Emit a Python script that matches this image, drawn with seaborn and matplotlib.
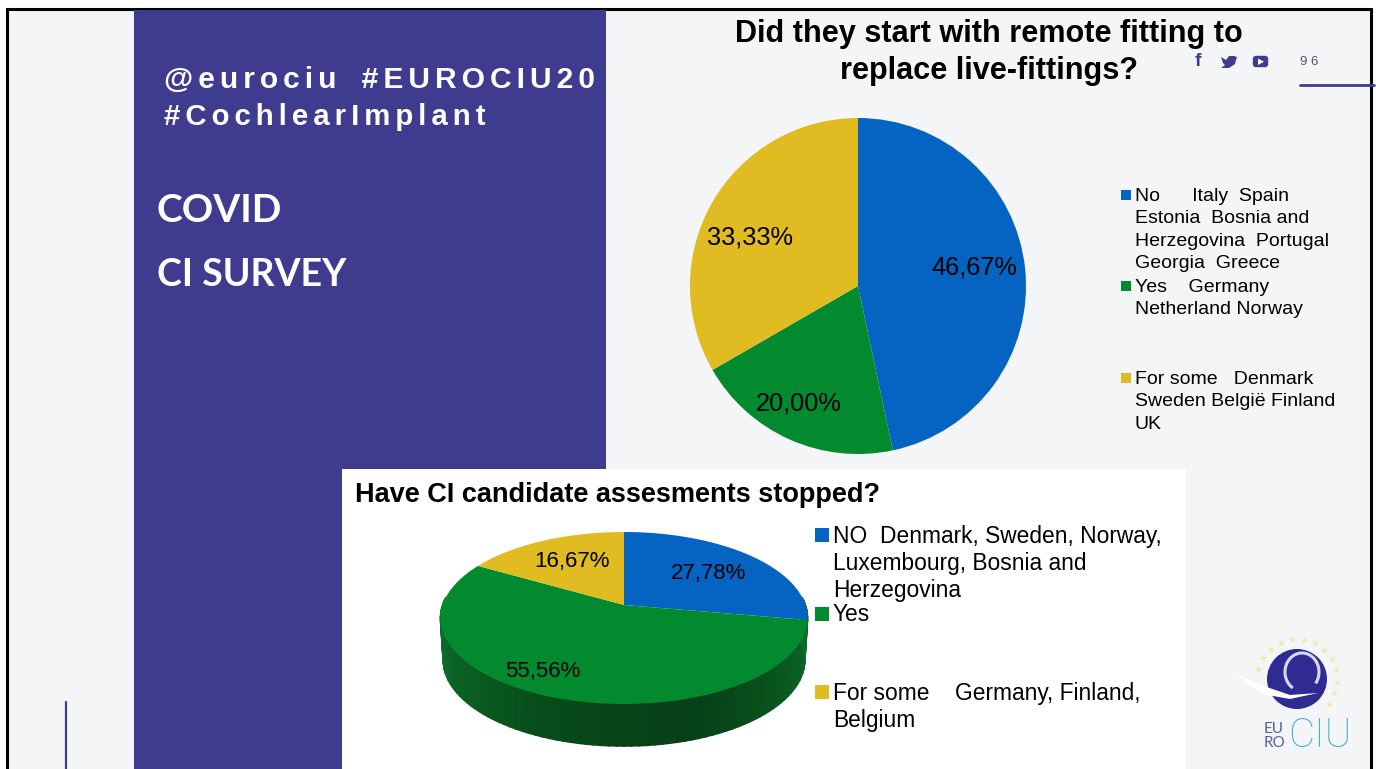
import numpy as np
import matplotlib.pyplot as plt
from matplotlib.patches import Rectangle, Circle, Arc, FancyBboxPatch, Polygon
import seaborn as sns

# Chart data
top_title = ["Did they start with remote fitting to", "replace live-fittings?"]
top_values = [46.67, 20.00, 33.33]
top_labels = [
    "No      Italy  Spain\nEstonia  Bosnia and\nHerzegovina  Portugal\nGeorgia  Greece",
    "Yes    Germany\nNetherland Norway",
    "For some   Denmark\nSweden België Finland\nUK",
]
bottom_title = "Have CI candidate assesments stopped?"
bottom_values = [27.78, 55.56, 16.67]
bottom_labels = [
    "NO  Denmark, Sweden, Norway,\nLuxembourg, Bosnia and\nHerzegovina",
    "Yes",
    "For some    Germany, Finland,\nBelgium",
]

sns.set_theme(style="white")
plt.rcParams['font.family'] = ['Liberation Sans', 'DejaVu Sans']

palette = sns.color_palette(["#0563c1", "#038a2e", "#e0bb22"])
purple = "#3f3b8f"
slide_bg = "#f4f5f7"


def pct_text(p):
    return f"{p:.2f}%".replace(".", ",")


def spaced(s):
    # letter spacing of the slide heading
    return "\u200a\u200a".join(s)


fig = plt.figure(figsize=(13.76, 7.69), dpi=100, facecolor="white")
ax = fig.add_axes([0, 0, 1, 1])

# Top pie, y axis runs downwards so the angles go clockwise on screen
wedges, _, autotexts = ax.pie(top_values, colors=palette, center=(858, 286), radius=168,
                              startangle=-90, counterclock=True, autopct=pct_text,
                              wedgeprops={"linewidth": 0},
                              textprops={"fontsize": 18.3, "color": "black"})
ax.set_xlim(0, 1376)
ax.set_ylim(769, 0)
ax.set_aspect("equal")
ax.axis("off")
for t, xy in zip(autotexts, [(974, 267), (799, 403), (750, 237)]):
    t.set_position(xy)

# Slide background
ax.add_patch(Rectangle((7, 9), 1364, 770, fc=slide_bg, ec="black", lw=2.2, zorder=0))
ax.add_patch(Rectangle((134, 10), 472, 759, fc=purple, ec="none", zorder=0.1))
ax.add_patch(Rectangle((342, 469), 844, 300, fc="white", ec="none", zorder=0.2))
ax.plot([66, 66], [702, 769], color=purple, lw=1.6)
ax.plot([1300, 1374], [85, 85], color=purple, lw=2)

# Heading on the purple band
ax.text(164, 80, spaced("@eurociu") + "   " + spaced("#EUROCIU20"), color="white",
        fontsize=21.6, fontweight="bold", va="center")
ax.text(164, 117, spaced("#CochlearImplant"), color="white",
        fontsize=21.2, fontweight="bold", va="center")
ax.text(157, 211, "COVID", color="white", fontsize=28, fontweight="bold",
        family=["Lato", "DejaVu Sans"], va="center")
ax.text(157, 275, "CI SURVEY", color="white", fontsize=27, fontweight="bold",
        family=["Lato", "DejaVu Sans"], va="center")

ax.text(989, 34, top_title[0], ha="center", va="center", fontsize=22.1, fontweight="bold", color="black")
ax.text(989, 71, top_title[1], ha="center", va="center", fontsize=22.1, fontweight="bold", color="black")
ax.text(355, 495, bottom_title, va="center", fontsize=19.5, fontweight="bold", color="black")

# Top legend
for label, c, y in zip(top_labels, palette, [188, 279, 371]):
    ax.scatter([1126], [y + 7], marker="s", s=58, color=c, linewidths=0)
    ax.text(1135, y, label, va="top", fontsize=14, linespacing=1.42, color="black")

# Bottom pie: tilted disc, the perspective puts the apex above the ellipse centre
cx, cy, a, b, depth = 624, 618, 181.4, 86, 42
k, d = 0.151, 13


def disc_xy(theta):
    u, v = np.cos(theta), np.sin(theta)
    w = 1 + k * v
    return cx + a * u / w, cy - (b * v + d) / w


# side wall
n_strips = 90
wall = sns.blend_palette(["#0f7a2e", "#0b6125", "#074a1a", "#063f16", "#0a5a20", "#0e6e2a"], n_strips)
angles = np.linspace(np.pi * 0.97, np.pi * 2.03, n_strips + 1)
for i in range(n_strips):
    x0, y0 = disc_xy(angles[i])
    x1, y1 = disc_xy(angles[i + 1])
    ax.fill([x0, x1, cx + (x1 - cx) * 0.985, cx + (x0 - cx) * 0.985],
            [y0, y1, y1 + depth, y0 + depth], color=wall[i], lw=1.2, zorder=1)

# top face, clockwise from twelve o'clock
fractions = np.cumsum([0] + bottom_values) / np.sum(bottom_values)
for i, c in enumerate(palette):
    th = np.pi / 2 - 2 * np.pi * np.linspace(fractions[i], fractions[i + 1], 200)
    x, y = disc_xy(th)
    ax.fill(np.r_[cx, x], np.r_[cy - d, y], color=c, lw=0, zorder=1.5)

for val, xy in zip(bottom_values, [(709, 574), (543, 671), (572, 562)]):
    ax.text(xy[0], xy[1], pct_text(val), ha="center", va="center", fontsize=16, color="black", zorder=3)

# Bottom legend
for label, c, y, my in zip(bottom_labels, palette, [525, 603, 682], [535, 614, 692]):
    ax.scatter([822], [my], marker="s", s=100, color=c, linewidths=0)
    ax.text(833, y, label, va="top", fontsize=16.4, linespacing=1.23, color="black")

# Social icons and page number
ax.text(1198, 62, "f", color=purple, fontsize=14, fontweight="bold", ha="center", va="center")
ax.add_patch(Polygon([(1221, 57), (1226, 60), (1229, 56), (1234, 56), (1237, 57), (1236, 60),
                      (1235, 64), (1229, 68), (1221, 68), (1225, 65), (1223, 63), (1222, 60)],
                     fc=purple, ec="none"))
ax.add_patch(FancyBboxPatch((1253.5, 56.5), 14, 10, boxstyle="round,pad=0,rounding_size=2.5", fc=purple, ec=purple, lw=1))
ax.add_patch(Polygon([(1258, 58.5), (1258, 65), (1264, 61.7)], fc="white", ec="none", zorder=3))
ax.text(1309, 62, "9 6", color="#55565e", fontsize=9.5, ha="center", va="center")

# EuroCIU logo
star_t = np.deg2rad(np.linspace(-38, 165, 13))
ax.scatter(1297 + 40 * np.cos(star_t), 679 - 40 * np.sin(star_t), marker="*", s=28, color="#efe9a0", linewidths=0)
ax.add_patch(Circle((1297, 679), 30, fc="#302b92", ec="none"))
ax.add_patch(Arc((1302, 672), 34, 38, theta1=120, theta2=400, color="#d8d8f0", lw=2.2, zorder=3))
ax.add_patch(Polygon([(1235, 673), (1258, 684), (1290, 695), (1318, 693), (1290, 699), (1262, 694)],
                     fc="white", ec="none", zorder=3))
ax.text(1264, 729, "EU", color="#5a5f9c", fontsize=11, family=["Lato", "DejaVu Sans"], va="center")
ax.text(1264, 743, "RO", color="#5a5f9c", fontsize=11, family=["Lato", "DejaVu Sans"], va="center")
ax.text(1288, 736, "CIU", color="#3fb0cc", fontsize=29, family=["Roboto", "DejaVu Sans"],
        fontweight="light", va="center")

fig.savefig("out.png", dpi=100)
